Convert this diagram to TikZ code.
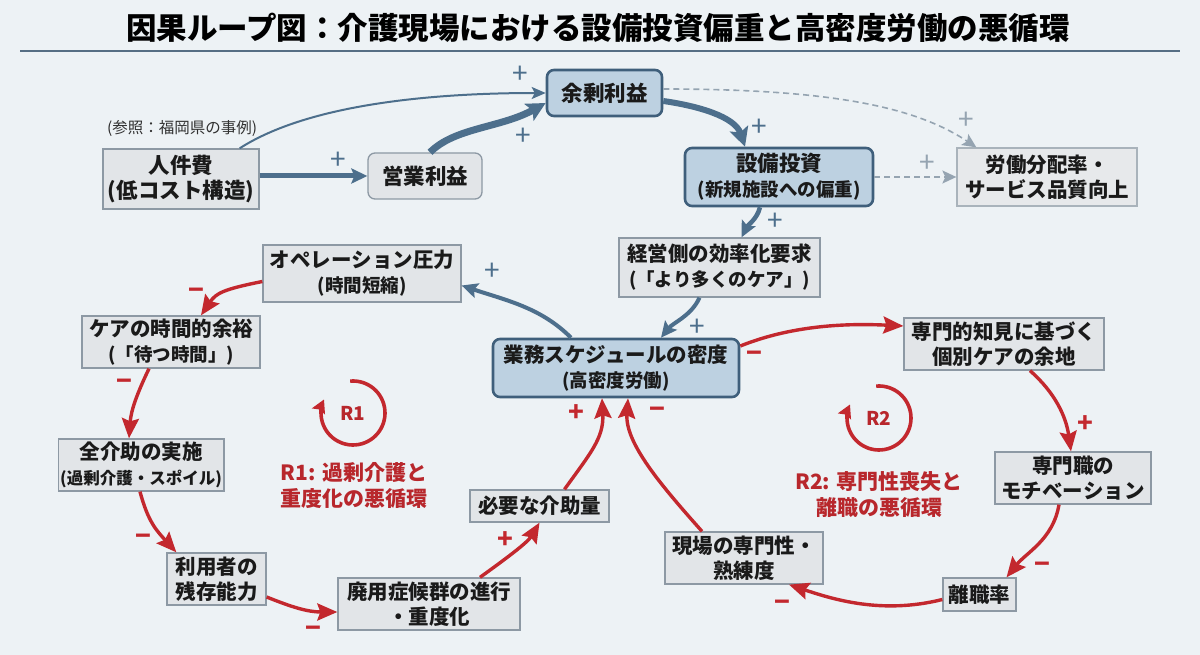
\documentclass[tikz,border=0pt]{standalone}
\usepackage{fontspec}
\setmainfont{Noto Sans CJK JP}
\usetikzlibrary{arrows.meta,calc}
\definecolor{bg}{HTML}{EDF2F5}
\definecolor{txt}{HTML}{1A1A1A}
\definecolor{gfill}{HTML}{E2E5E8}
\definecolor{gdraw}{HTML}{8D99A4}
\definecolor{lfill}{HTML}{E7E9EB}
\definecolor{ldraw}{HTML}{A9B3BB}
\definecolor{bfill}{HTML}{BDD1E1}
\definecolor{bdraw}{HTML}{3F5F7B}
\definecolor{barrow}{HTML}{4D6F8C}
\definecolor{darrow}{HTML}{95A4B1}
\definecolor{rarrow}{HTML}{C3282E}
\definecolor{rtext}{HTML}{B8272C}
\definecolor{rulec}{HTML}{566E84}
\newcommand\myfa{\fontsize{20.5}{25}\selectfont}
\newcommand\myfb{\fontsize{18.5}{23}\selectfont}
\newcommand\myfc{\fontsize{21.5}{25}\selectfont}
\begin{document}
\begin{tikzpicture}[x=1pt,y=-1pt,
  gbox/.style={draw=gdraw, fill=gfill, line width=1.3pt, align=center, text=txt, font=\bfseries\myfa, inner sep=2pt},
  lbox/.style={draw=ldraw, fill=lfill, line width=1.3pt, align=center, text=txt, font=\bfseries\myfa, inner sep=2pt},
  bbox/.style={draw=bdraw, fill=bfill, line width=2.6pt, rounded corners=7pt, align=center, text=txt, font=\bfseries\myfa, inner sep=2pt},
  barr/.style={draw=barrow, -{Stealth[length=16pt,width=15pt,inset=3pt]}},
  darr/.style={draw=darrow, dashed, dash pattern=on 6pt off 4pt, line width=1.6pt, -{Stealth[length=14pt,width=13pt,inset=3pt]}},
  rarr/.style={draw=rarrow, line width=3.4pt, -{Stealth[length=20pt,width=17pt,inset=3pt]}},
  bsign/.style={text=barrow, font=\fontsize{28}{28}\selectfont, inner sep=0pt},
  dsign/.style={text=darrow, font=\fontsize{28}{28}\selectfont, inner sep=0pt},
  rsign/.style={text=rarrow, font=\bfseries\fontsize{26}{26}\selectfont, inner sep=0pt},
  rlabel/.style={text=rtext, font=\bfseries\fontsize{21}{26}\selectfont, align=center},
  loopc/.style={draw=rarrow, line width=3.6pt, -{Stealth[length=13pt,width=14pt,inset=2pt]}}
]
\useasboundingbox (0,0) rectangle (1200,655);
\fill[bg] (0,0) rectangle (1200,655);

% title
\node[text=black, font=\bfseries\fontsize{30.5}{34}\selectfont] (title) at (598,28) {因果ループ図：介護現場における設備投資偏重と高密度労働の悪循環};
\coordinate (rl) at (20,51);
\coordinate (rr) at (1180,51);
\draw[rulec, line width=1.8pt] (rl) -- (rr);

% nodes
\node[font=\fontsize{15.5}{18}\selectfont, text=txt!90] (ref) at (182,129) {(参照：福岡県の事例)};
\node[gbox, font=\bfseries\myfc, minimum width=156pt, minimum height=60pt] (cost) at (181,179) {人件費\\(低コスト構造)};
\node[gbox, font=\bfseries\myfc, rounded corners=7pt, minimum width=114pt, minimum height=46pt] (op) at (425,176) {営業利益};
\node[bbox, font=\bfseries\myfc, minimum width=115pt, minimum height=46pt] (surplus) at (604.5,93) {余剰利益};
\node[bbox, font=\bfseries\myfc, minimum width=188pt, minimum height=58pt] (invest) at (779,177) {設備投資\\{\myfb(新規施設への偏重)}};
\node[lbox, minimum width=180pt, minimum height=58pt] (labor) at (1047,177) {労働分配率・\\サービス品質向上};
\node[gbox, minimum width=201pt, minimum height=59pt] (mgmt) at (719.5,267.5) {経営側の効率化要求\\{\myfb(「より多くのケア」)}};
\node[gbox, minimum width=198pt, minimum height=57pt] (press) at (362,273.5) {オペレーション圧力\\{\myfb(時間短縮)}};
\node[bbox, minimum width=246pt, minimum height=58pt] (sched) at (616,368) {業務スケジュールの密度\\{\myfb(高密度労働)}};
\node[gbox, minimum width=178pt, minimum height=52pt] (slack) at (171,342) {ケアの時間的余裕\\{\myfb(「待つ時間」)}};
\node[gbox, minimum width=162pt, minimum height=52pt] (full) at (141,465) {全介助の実施\\{\fontsize{16.5}{21}\selectfont(過剰介護・スポイル)}};
\node[gbox, minimum width=99pt, minimum height=52pt] (resid) at (216.5,579) {利用者の\\残存能力};
\node[gbox, minimum width=182pt, minimum height=52pt] (disuse) at (429,604) {廃用症候群の進行\\・重度化};
\node[gbox, minimum width=139pt, minimum height=32pt] (need) at (539.5,506) {必要な介助量};
\node[gbox, minimum width=158pt, minimum height=52pt] (skill) at (744,558) {現場の専門性・\\熟練度};
\node[gbox, minimum width=73pt, minimum height=33pt] (turn) at (979.5,594.5) {離職率};
\node[gbox, minimum width=156pt, minimum height=52pt] (motiv) at (1073,478) {専門職の\\モチベーション};
\node[gbox, minimum width=200pt, minimum height=52pt] (room) at (1004,344) {専門的知見に基づく\\個別ケアの余地};

% blue connectors
\draw[barr, line width=2pt, -{Stealth[length=14pt,width=12pt,inset=3pt]}] ([xshift=-20pt]cost.north east) .. controls +(70,-45) and +(-110,0) .. (surplus.west);
\draw[barr, line width=5pt] (cost.east |- op.west) -- (op.west);
\draw[barr, line width=7pt, -{Stealth[length=19pt,width=19pt,inset=4pt]}] ([xshift=5pt]op.north) .. controls +(25,-25) and +(-45,25) .. ([yshift=-10pt]surplus.west);
\draw[barr, line width=6pt, -{Stealth[length=19pt,width=19pt,inset=4pt]}] ([yshift=-8pt]surplus.east) .. controls +(35,5) and +(-10,-30) .. ([xshift=-34pt]invest.north);
\draw[darr] ([yshift=4pt]surplus.east) .. controls +(170,0) and +(-60,-40) .. ([xshift=20pt]labor.north west);
\draw[darr] (invest.east) -- (labor.west);
\draw[barr, line width=4.5pt] ([xshift=-19pt]invest.south) .. controls +(-3,12) and +(6,-12) .. ([xshift=22pt]mgmt.north);
\draw[barr, line width=4pt] ([xshift=-20pt]mgmt.south) .. controls +(-8,18) and +(12,-15) .. ([xshift=45pt]sched.north);
\draw[barr, line width=4pt] ([xshift=-45pt]sched.north) .. controls +(-30,-30) and +(45,15) .. ([yshift=-12pt]press.east);

% red connectors
\draw[rarr] ([yshift=-8pt]press.west) .. controls +(-40,8) and +(15,-22) .. ([xshift=30pt]slack.north);
\draw[rarr] ([xshift=-22pt]slack.south) .. controls +(-12,25) and +(2,-28) .. ([xshift=-12pt]full.north);
\draw[rarr] ([xshift=-1pt]full.south) .. controls +(8,30) and +(-20,-22) .. ([xshift=10pt]resid.north west);
\draw[rarr] ([yshift=-18pt]resid.east) .. controls +(25,10) and +(-30,0) .. ([yshift=-8pt]disuse.west);
\draw[rarr] ([xshift=51pt]disuse.north) .. controls +(25,-18) and +(-12,20) .. (need.south);
\draw[rarr] ([xshift=25pt]need.north) .. controls +(25,-35) and +(2,40) .. ([xshift=-14pt]sched.south);
\draw[rarr] ([xshift=-42pt]skill.north) .. controls +(-40,-45) and +(-3,45) .. ([xshift=12pt]sched.south);
\draw[rarr] ([yshift=22pt]sched.east) .. controls +(50,-20) and +(-60,-3) .. ([yshift=18pt]room.west);
\draw[rarr] ([xshift=26pt]room.south) .. controls +(25,22) and +(-5,-35) .. ([xshift=-2pt]motiv.north);
\draw[rarr] ([xshift=-14pt]motiv.south) .. controls +(-6,35) and +(20,-25) .. ([xshift=27pt]turn.north);
\draw[rarr] ([yshift=-5pt]turn.west) .. controls +(-60,15) and +(45,15) .. ([xshift=45pt]skill.south);

% signs
\node[bsign] (s1) at (520,75) {+};
\node[bsign] (s2) at (338,161) {+};
\node[bsign] (s3) at (523,137) {+};
\node[bsign] (s4) at (759,128) {+};
\node[dsign] (s5) at (966,121) {+};
\node[dsign] (s6) at (927,164) {+};
\node[bsign] (s7) at (775,222) {+};
\node[bsign] (s8) at (697,328) {+};
\node[bsign] (s9) at (492,272) {+};
\node[rsign] (m1) at (196,294) {−};
\node[rsign] (m2) at (124,385) {−};
\node[rsign] (m3) at (143,540) {−};
\node[rsign] (m4) at (313,632) {−};
\node[rsign] (p1) at (505,540) {+};
\node[rsign] (p2) at (576,413) {+};
\node[rsign] (m5) at (657,413) {−};
\node[rsign] (m6) at (754,357) {−};
\node[rsign] (p3) at (1085,424) {+};
\node[rsign] (m7) at (1042,568) {−};
\node[rsign] (m8) at (782,606) {−};

% loop markers
\node[text=rtext, font=\bfseries\fontsize{19}{19}\selectfont] (r1) at (353,413) {R1};
\draw[loopc] (r1) ++(-95:32) arc[start angle=-95, end angle=205, radius=32];
\node[text=rtext, font=\bfseries\fontsize{19}{19}\selectfont] (r2) at (879,418) {R2};
\draw[loopc] (r2) ++(-95:32) arc[start angle=-95, end angle=205, radius=32];
\node[rlabel] (r1t) at (354,486) {R1: 過剰介護と\\重度化の悪循環};
\node[rlabel] (r2t) at (879,495) {R2: 専門性喪失と\\離職の悪循環};
\end{tikzpicture}
\end{document}
